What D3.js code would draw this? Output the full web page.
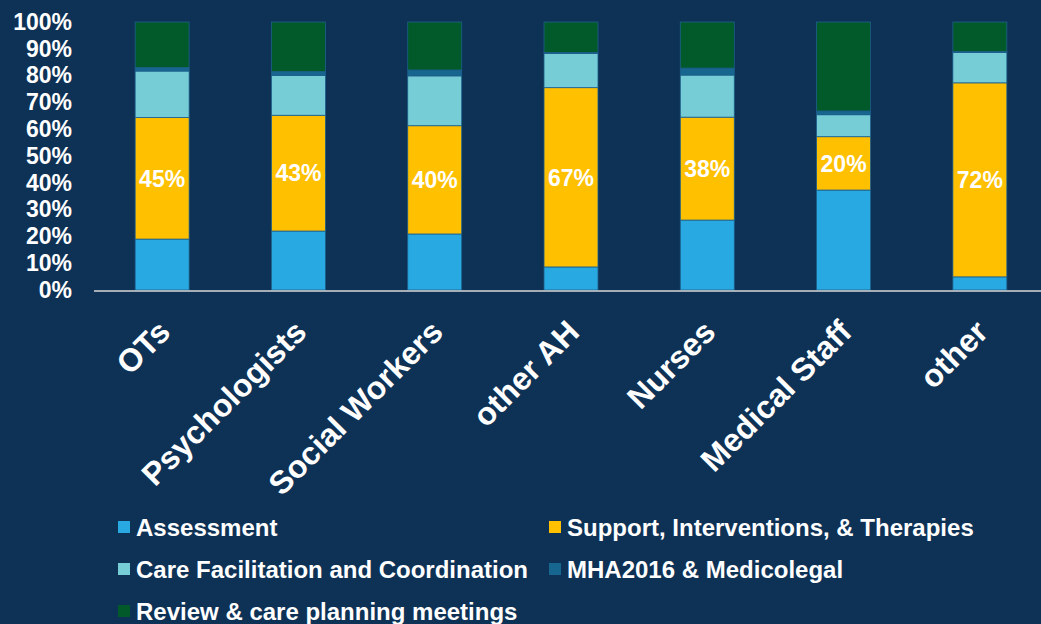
<!DOCTYPE html>
<html>
<head>
<meta charset="utf-8">
<script src="https://cdn.jsdelivr.net/npm/d3@7"></script>
<style>
  html, body { margin: 0; padding: 0; background: #0e3256; overflow: hidden; }
  text { font-family: "Liberation Sans", Arial, sans-serif; font-weight: bold; fill: #fff; }
</style>
</head>
<body>
<div id="chart"></div>
<script>
// categories and series (percent of time)
const categories = ["OTs", "Psychologists", "Social Workers", "other AH", "Nurses", "Medical Staff", "other"];
const assessment = [19.0, 22.0, 20.9, 8.6, 26.1, 37.3, 4.9];
const support = [45.4, 43.2, 40.4, 66.9, 38.4, 19.9, 72.4];
const careFacilitation = [17.3, 14.9, 18.6, 12.8, 15.7, 8.2, 11.3];
const mha = [1.3, 1.4, 2.2, 0.3, 2.6, 1.4, 0.4];
const review = [17.0, 18.5, 17.9, 11.4, 17.2, 33.2, 11.0];

const seriesNames = ["Assessment", "Support, Interventions, & Therapies", "Care Facilitation and Coordination", "MHA2016 & Medicolegal", "Review & care planning meetings"];
const seriesColors = ["#29a9e1", "#ffc000", "#77cdd6", "#17668f", "#025a2b"];
const yTicks = [0, 10, 20, 30, 40, 50, 60, 70, 80, 90, 100];

const width = 1041, height = 624;
const keys = ["a", "s", "c", "m", "r"];
const table = categories.map((cat, i) => ({
  cat, a: assessment[i], s: support[i], c: careFacilitation[i], m: mha[i], r: review[i]
}));

const svg = d3.select("#chart").append("svg")
  .attr("width", width)
  .attr("height", height);

svg.append("rect").attr("width", width).attr("height", height).attr("fill", "#0e3256");

const x = d3.scaleBand().domain(categories).range([94, 1048]).paddingInner(0.604).paddingOuter(0.302);
const y = d3.scaleLinear().domain([0, 100]).range([290, 22]);
const color = d3.scaleOrdinal().domain(keys).range(seriesColors);

const stacked = d3.stack().keys(keys)(table);

// bars
svg.selectAll(".layer")
  .data(stacked)
  .enter()
  .append("g")
  .attr("class", "layer")
  .attr("fill", (d) => color(d.key))
  .selectAll("rect")
  .data((d) => d)
  .enter()
  .append("rect")
  .attr("x", (d) => x(d.data.cat))
  .attr("width", x.bandwidth())
  .attr("y", (d) => y(d[1]))
  .attr("height", (d) => y(d[0]) - y(d[1]))
  .attr("stroke", "#1d5f8c")
  .attr("stroke-width", 0.8);

// labels on the support segment
const supportLayer = stacked.find((s) => s.key === "s");
svg.selectAll(".bar-label")
  .data(supportLayer)
  .enter()
  .append("text")
  .attr("class", "bar-label")
  .attr("x", (d) => x(d.data.cat) + x.bandwidth() / 2)
  .attr("y", (d) => (y(d[0]) + y(d[1])) / 2)
  .attr("dy", "0.36em")
  .attr("text-anchor", "middle")
  .attr("font-size", "23px")
  .text((d) => Math.round(d.data.s) + "%");

// y axis labels
const yAxis = svg.append("g")
  .attr("transform", "translate(72,0)")
  .call(d3.axisLeft(y).tickValues(yTicks).tickFormat((d) => d + "%").tickSize(0).tickPadding(0));
yAxis.select(".domain").remove();
yAxis.selectAll("text").attr("font-size", "23px").attr("fill", "#fff")
  .attr("font-family", "'Liberation Sans', Arial, sans-serif");

// x axis line
svg.append("line")
  .attr("x1", 94).attr("x2", width)
  .attr("y1", 291).attr("y2", 291)
  .attr("stroke", "#d9d9d9")
  .attr("stroke-width", 1.5);

// x labels rotated
svg.selectAll(".x-label")
  .data(categories)
  .enter()
  .append("text")
  .attr("class", "x-label")
  .attr("text-anchor", "end")
  .attr("font-size", "32px")
  .attr("transform", (d) => `translate(${x(d) + x.bandwidth() / 2 + 10},334) rotate(-45)`)
  .text((d) => d);

// legend
const legendPos = [[118, 536], [549, 536], [118, 578], [549, 578], [118, 620]];
const legend = svg.selectAll(".legend-item")
  .data(seriesNames)
  .enter()
  .append("g")
  .attr("class", "legend-item")
  .attr("transform", (d, i) => `translate(${legendPos[i][0]},${legendPos[i][1]})`);

legend.append("rect")
  .attr("x", 0)
  .attr("y", -15)
  .attr("width", 12)
  .attr("height", 12)
  .attr("fill", (d, i) => seriesColors[i]);

legend.append("text")
  .attr("x", 18)
  .attr("y", 0)
  .attr("font-size", "24px")
  .text((d) => d);
</script>
</body>
</html>
